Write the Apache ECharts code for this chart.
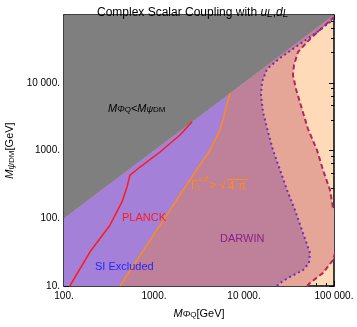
<!DOCTYPE html>
<html>
<head>
<meta charset="utf-8">
<script src="https://cdn.jsdelivr.net/npm/echarts@6/dist/echarts.min.js"></script>
<style>
html, body { margin: 0; padding: 0; background: #fff; }
#chart { width: 357px; height: 327px; }
</style>
</head>
<body>
<div id="chart"></div>
<script>
// axes: x = M_PhiQ [GeV], y = M_psiDM [GeV], both log
var xTicks = [100, 1000, 10000, 100000];
var xTickLabels = ['100.', '1000.', '10 000.', '100 000.'];
var yTicks = [10, 100, 1000, 10000, 100000];
var yTickLabels = ['10.', '100.', '1000.', '10 000.', ''];

// region above the diagonal M_PhiQ < M_psiDM
var grayRegion = [[100, 100], [100, 100000], [100000, 100000]];

// PLANCK relic line (red)
var planck = [[116, 10], [194, 31.7], [324, 79], [441, 174], [501, 289], [541, 434],
  [699, 570], [1166, 950], [1944, 1694], [2650, 2650]];

// perturbativity bound Gamma > sqrt(4pi) (orange)
var perturb = [[419, 10], [1166, 79], [2712, 434], [4188, 1016], [5412, 2010],
  [6150, 3700], [6640, 5560], [6985, 6985]];

// DARWIN reach (dotted)
var darwin = [[23270, 10], [25120, 11.1], [32430, 13.6], [45250, 17.2], [52730, 21.8],
  [54120, 30.7], [45250, 60.5], [36870, 132], [30060, 261], [25120, 515], [21000, 1016],
  [18480, 1875], [16260, 3700], [15450, 6590], [15850, 10260], [18020, 15960],
  [25120, 23170], [41900, 37300], [69870, 60100], [100000, 87300]];

// outer dashed bound
var outer = [[50120, 10], [54120, 11.1], [75480, 15.6], [97500, 24.2], [116600, 56.6],
  [116600, 132], [97500, 141.6], [90300, 261], [75480, 515], [64710, 1016], [51400, 2075],
  [44070, 4100], [37800, 8090], [35000, 13000], [35940, 18280], [39810, 28440],
  [54120, 44250], [73560, 64300], [100000, 93300]];

var FONT = 'Liberation Sans';

function closeLeft(curve) {
  // close a boundary curve along the diagonal and the left edge
  return curve.concat([[100000, 100000], [100, 100], [100, 10]]);
}

function regionSeries(points, color, z) {
  return {
    type: 'custom',
    coordinateSystem: 'cartesian2d',
    clip: true,
    silent: true,
    z: z,
    data: points,
    renderItem: function (params, api) {
      if (params.dataIndex !== 0) return;
      var pts = points.map(function (p) { return api.coord(p); });
      return { type: 'polygon', shape: { points: pts }, style: { fill: color } };
    }
  };
}

function curveSeries(points, color, width, type, z) {
  return {
    type: 'line',
    data: points,
    showSymbol: false,
    symbol: 'none',
    clip: true,
    silent: true,
    z: z,
    lineStyle: { color: color, width: width, type: type }
  };
}

// tokens sit on the bottom of the line box: smaller lineHeight = lower
function subRich(color, size) {
  return {
    m: { fontFamily: FONT, fontStyle: 'italic', fontSize: size, color: color, lineHeight: size + 10, verticalAlign: 'bottom' },
    n: { fontFamily: FONT, fontSize: size, color: color, lineHeight: size + 10, verticalAlign: 'bottom' },
    s: { fontFamily: FONT, fontStyle: 'italic', fontSize: size - 2, color: color, lineHeight: size + 4, verticalAlign: 'bottom' },
    ss: { fontFamily: FONT, fontSize: size - 3, color: color, lineHeight: size - 2, verticalAlign: 'bottom' }
  };
}

function tickFmt(ticks, labels) {
  return function (v) {
    var i = Math.round(Math.log10(v)) - Math.round(Math.log10(ticks[0]));
    return labels[i] || '';
  };
}

var frameLine = { show: true, lineStyle: { color: '#000', width: 1.5 } };
var tick = { show: true, inside: true, length: 5, lineStyle: { color: '#000', width: 1 } };
var minor = { show: true, splitNumber: 5, length: 3, lineStyle: { color: '#000', width: 1 } };
var tickText = { fontFamily: FONT, fontSize: 10, color: '#000' };

var chart = echarts.init(document.getElementById('chart'));
var option = {
  animation: false,
  title: {
    text: '{n|Complex Scalar Coupling with }{m|u}{s|L}{n|,}{m|d}{s|L}',
    left: 97,
    top: -3,
    padding: 0,
    textStyle: { fontFamily: FONT, fontSize: 12, fontWeight: 'normal', color: '#000', rich: subRich('#000', 12) }
  },
  grid: { left: 64, right: 23, top: 15, bottom: 41, show: true, backgroundColor: '#ffdab8', borderWidth: 0,
    containLabel: false, outerBoundsMode: 'none' },
  xAxis: [{
    type: 'log', logBase: 10, min: 100, max: 100000, position: 'bottom',
    axisLine: frameLine, axisTick: tick, minorTick: minor, splitLine: { show: false },
    axisLabel: Object.assign({ margin: 5, showMinLabel: true, showMaxLabel: true, formatter: tickFmt(xTicks, xTickLabels) }, tickText),
    name: '{m|M}{s|Φ}{ss|Q}{n|[GeV]}', nameLocation: 'middle', nameGap: 12,
    nameTextStyle: { rich: subRich('#000', 11) }
  }, {
    type: 'log', logBase: 10, min: 100, max: 100000, position: 'top',
    axisLine: frameLine, axisTick: tick, minorTick: minor, splitLine: { show: false },
    axisLabel: { show: false }
  }],
  yAxis: [{
    type: 'log', logBase: 10, min: 10, max: 100000, position: 'left',
    axisLine: frameLine, axisTick: tick, minorTick: minor, splitLine: { show: false },
    axisLabel: Object.assign({ margin: 4, formatter: tickFmt(yTicks, yTickLabels) }, tickText),
    name: '{m|M}{s|ψ}{ss|DM}{n|[GeV]}', nameLocation: 'middle', nameGap: 40,
    nameTextStyle: { rich: subRich('#000', 11) }
  }, {
    type: 'log', logBase: 10, min: 10, max: 100000, position: 'right',
    axisLine: frameLine, axisTick: tick, minorTick: minor, splitLine: { show: false },
    axisLabel: { show: false }
  }],
  series: [
    regionSeries(closeLeft(outer), '#e5a697', 1),
    regionSeries(closeLeft(darwin), '#bf8099', 2),
    regionSeries(closeLeft(perturb), '#a580d8', 3),
    regionSeries(grayRegion, '#7f7f7f', 4),
    curveSeries(outer, '#b5245f', 2, [5, 3], 5),
    curveSeries(darwin, '#6e2db3', 2, [2, 3], 5),
    curveSeries(perturb, '#ff8c1a', 1.5, 'solid', 5),
    curveSeries(planck, '#ff1a1a', 1.5, 'solid', 5)
  ],
  graphic: [
    { type: 'text', left: 108, top: 103, z: 10, style: { text: '{m|M}{s|Φ}{ss|Q}{n|<}{m|M}{s|ψ}{ss|DM}', rich: subRich('#000', 11) } },
    { type: 'text', left: 122, top: 212, z: 10, style: { text: 'PLANCK', fontFamily: FONT, fontSize: 11, fill: '#ff1a1a' } },
    { type: 'text', left: 95, top: 261, z: 10, style: { text: 'SI Excluded', fontFamily: FONT, fontSize: 11, fill: '#2626ff' } },
    { type: 'text', left: 220, top: 233, z: 10, style: { text: 'DARWIN', fontFamily: FONT, fontSize: 11, fill: '#8a1f8a' } },
    { type: 'text', left: 191, top: 180, z: 10, style: { text: 'Γ', fontFamily: FONT, fontSize: 12, fill: '#ff8c1a' } },
    { type: 'text', left: 198, top: 176, z: 10, style: { text: 'u,d', fontFamily: FONT, fontStyle: 'italic', fontSize: 7, fill: '#ff8c1a' } },
    { type: 'text', left: 198, top: 186, z: 10, style: { text: 'L', fontFamily: FONT, fontSize: 7, fill: '#ff8c1a' } },
    { type: 'text', left: 209, top: 180, z: 10, style: { text: '> √', fontFamily: FONT, fontSize: 12, fill: '#ff8c1a' } },
    { type: 'text', left: 228, top: 181, z: 10, style: { text: '4 π', fontFamily: FONT, fontSize: 12, fill: '#ff8c1a' } },
    { type: 'line', z: 10, shape: { x1: 227, y1: 179.5, x2: 248, y2: 179.5 }, style: { stroke: '#ff8c1a', lineWidth: 1 } }
  ]
};
chart.setOption(option);
</script>
</body>
</html>
